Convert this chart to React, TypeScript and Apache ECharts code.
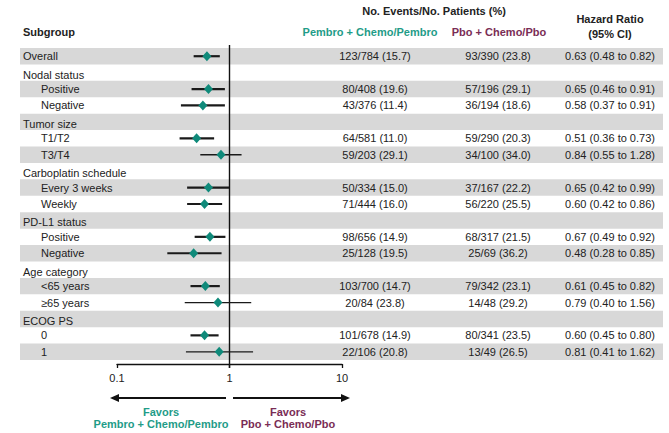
import React, { useEffect, useRef } from "react";
import * as echarts from "echarts";

const subgroups = [
  "Overall", "Nodal status", "Positive", "Negative", "Tumor size", "T1/T2", "T3/T4",
  "Carboplatin schedule", "Every 3 weeks", "Weekly", "PD-L1 status", "Positive", "Negative",
  "Age category", "<65 years", "≥65 years", "ECOG PS", "0", "1",
];
const levels = [0, 0, 1, 1, 0, 1, 1, 0, 1, 1, 0, 1, 1, 0, 1, 1, 0, 1, 1];
const pembroEvents = [
  "123/784 (15.7)", "", "80/408 (19.6)", "43/376 (11.4)", "", "64/581 (11.0)", "59/203 (29.1)",
  "", "50/334 (15.0)", "71/444 (16.0)", "", "98/656 (14.9)", "25/128 (19.5)",
  "", "103/700 (14.7)", "20/84 (23.8)", "", "101/678 (14.9)", "22/106 (20.8)",
];
const pboEvents = [
  "93/390 (23.8)", "", "57/196 (29.1)", "36/194 (18.6)", "", "59/290 (20.3)", "34/100 (34.0)",
  "", "37/167 (22.2)", "56/220 (25.5)", "", "68/317 (21.5)", "25/69 (36.2)",
  "", "79/342 (23.1)", "14/48 (29.2)", "", "80/341 (23.5)", "13/49 (26.5)",
];
const hr = [0.63, null, 0.65, 0.58, null, 0.51, 0.84, null, 0.65, 0.6, null, 0.67, 0.48, null, 0.61, 0.79, null, 0.6, 0.81];
const ciLow = [0.48, null, 0.46, 0.37, null, 0.36, 0.55, null, 0.42, 0.42, null, 0.49, 0.28, null, 0.45, 0.4, null, 0.45, 0.41];
const ciHigh = [0.82, null, 0.91, 0.91, null, 0.73, 1.28, null, 0.99, 0.86, null, 0.92, 0.85, null, 0.82, 1.56, null, 0.8, 1.62];
const axisTicks = [0.1, 1, 10];

const FONT = '"Liberation Sans", Arial, sans-serif';
const TEXT = "#222";
const TEAL = "#1f9c88";
const PURPLE = "#7a2d55";
const DIAMOND = "#0f8a7a";
const BAND = "#d8d8d8";

export default function App() {
  const ref = useRef<HTMLDivElement>(null);
  useEffect(() => {
    if (!ref.current) return;
    const chart = echarts.init(ref.current, null, { renderer: "svg" });
    const rows = subgroups.map((_, i) => i);
    const fmt = (v: number) => v.toFixed(2);
    const hrText = rows.map((i) =>
      hr[i] == null ? "" : `${fmt(hr[i] as number)} (${fmt(ciLow[i] as number)} to ${fmt(ciHigh[i] as number)})`
    );
    const forestRows = rows.filter((i) => hr[i] != null);

    const txt = (text: string, x: number, y: number, align: string, color = TEXT, weight = "normal") => ({
      type: "text",
      x,
      y,
      style: { text, x: 0, y: 0, fill: color, fontSize: 11, fontFamily: FONT, fontWeight: weight, align, verticalAlign: "middle" },
    });

    const option: any = {
      animation: false,
      backgroundColor: "#fff",
      grid: [
        { left: 20, right: 6, top: 48, bottom: 73 },
        { left: 117, right: 327, top: 48, bottom: 73 },
      ],
      xAxis: [
        { type: "value", gridIndex: 0, min: 0, max: 643, show: false },
        {
          type: "log",
          gridIndex: 1,
          logBase: 10,
          min: axisTicks[0],
          max: axisTicks[axisTicks.length - 1],
          offset: 4,
          z: 10,
          axisLine: { show: true, onZero: false, lineStyle: { color: "#111", width: 1.3 } },
          axisTick: { show: true, length: 4, lineStyle: { color: "#111", width: 1.3 } },
          splitLine: { show: false },
          minorTick: { show: false },
          axisLabel: { color: TEXT, fontSize: 11, fontFamily: FONT, margin: 8, formatter: (v: number) => String(v) },
        },
      ],
      yAxis: [
        { type: "category", gridIndex: 0, data: rows.map(String), inverse: true, show: false },
        { type: "value", gridIndex: 1, min: -0.5, max: subgroups.length - 0.5, inverse: true, show: false },
      ],
      series: [
        {
          type: "bar",
          xAxisIndex: 0,
          yAxisIndex: 0,
          barWidth: "100%",
          silent: true,
          itemStyle: { color: BAND },
          data: rows.map((i) => (i % 2 === 0 ? 643 : 0)),
          z: 1,
        },
        {
          type: "custom",
          xAxisIndex: 0,
          yAxisIndex: 0,
          silent: true,
          z: 5,
          data: rows.map((i) => [0, i]),
          encode: { x: 0, y: 1 },
          renderItem: (params: any, api: any) => {
            const i = params.dataIndex;
            const dy = levels[i] === 0 && i > 0 ? 2 : 0;
            const y = api.coord([0, i])[1] + dy;
            const labelX = api.coord([levels[i] === 0 ? 3 : 21, i])[0];
            const c1 = api.coord([355, i])[0];
            const c2 = api.coord([478, i])[0];
            const c3 = api.coord([590, i])[0];
            return {
              type: "group",
              children: [
                txt(subgroups[i], labelX, y, "left"),
                txt(pembroEvents[i], c1, y, "center"),
                txt(pboEvents[i], c2, y, "center"),
                txt(hrText[i], c3, y, "center"),
              ],
            };
          },
        },
        {
          type: "custom",
          xAxisIndex: 1,
          yAxisIndex: 1,
          silent: true,
          z: 6,
          data: [[1]],
          encode: { x: 0 },
          renderItem: (_p: any, api: any) => {
            const top = api.coord([1, -0.5]);
            const bot = api.coord([1, subgroups.length - 0.5]);
            return {
              type: "line",
              shape: { x1: top[0], y1: top[1] - 3, x2: bot[0], y2: bot[1] + 8 },
              style: { stroke: "#111", lineWidth: 1.4 },
            };
          },
        },
        {
          type: "custom",
          xAxisIndex: 1,
          yAxisIndex: 1,
          silent: true,
          z: 7,
          data: forestRows.map((i) => [ciLow[i], ciHigh[i], i]),
          encode: { x: [0, 1], y: 2 },
          renderItem: (_p: any, api: any) => {
            const a = api.coord([api.value(0), api.value(2)]);
            const b = api.coord([api.value(1), api.value(2)]);
            const w = api.value(1) > 1 ? 1.3 : 2.2;
            return {
              type: "line",
              shape: { x1: a[0], y1: a[1], x2: b[0], y2: b[1] },
              style: { stroke: "#1a1a1a", lineWidth: w },
            };
          },
        },
        {
          type: "scatter",
          xAxisIndex: 1,
          yAxisIndex: 1,
          silent: true,
          z: 8,
          symbol: "diamond",
          symbolSize: [9, 10],
          itemStyle: { color: DIAMOND, opacity: 1 },
          data: forestRows.map((i) => [hr[i], i]),
        },
      ],
      graphic: [
        txt("Subgroup", 23, 32, "left", TEXT, "bold"),
        txt("No. Events/No. Patients (%)", 434, 11, "center", TEXT, "bold"),
        txt("Pembro + Chemo/Pembro", 370, 32, "center", TEAL, "bold"),
        txt("Pbo + Chemo/Pbo", 499, 32, "center", PURPLE, "bold"),
        txt("Hazard Ratio", 610, 19, "center", TEXT, "bold"),
        txt("(95% CI)", 610, 34, "center", TEXT, "bold"),
        { type: "line", shape: { x1: 226, y1: 398, x2: 116, y2: 398 }, style: { stroke: "#111", lineWidth: 2 } },
        { type: "polygon", shape: { points: [[110, 398], [119, 394], [119, 402]] }, style: { fill: "#111" } },
        { type: "line", shape: { x1: 233, y1: 398, x2: 343, y2: 398 }, style: { stroke: "#111", lineWidth: 2 } },
        { type: "polygon", shape: { points: [[350, 398], [341, 394], [341, 402]] }, style: { fill: "#111" } },
        txt("Favors", 161, 412, "center", TEAL, "bold"),
        txt("Pembro + Chemo/Pembro", 161, 424, "center", TEAL, "bold"),
        txt("Favors", 288, 412, "center", PURPLE, "bold"),
        txt("Pbo + Chemo/Pbo", 288, 424, "center", PURPLE, "bold"),
      ],
    };
    chart.setOption(option);
    return () => chart.dispose();
  }, []);
  return (
    <div
      ref={ref}
      style={{ position: "fixed", left: 0, top: 0, width: 669, height: 433, background: "#fff" }}
    />
  );
}
